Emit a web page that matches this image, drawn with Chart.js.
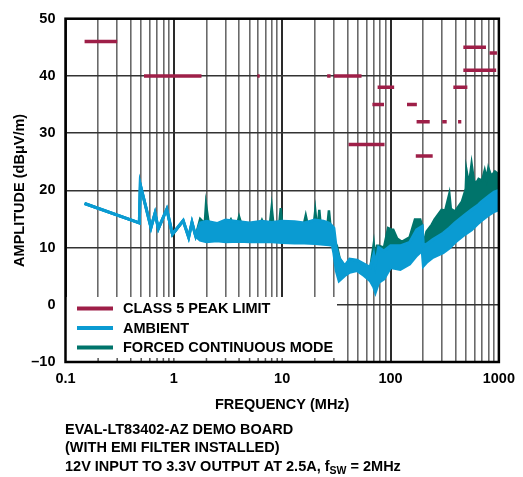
<!DOCTYPE html>
<html><head><meta charset="utf-8">
<script src="https://cdn.jsdelivr.net/npm/chart.js@4/dist/chart.umd.min.js"></script>
<style>html,body{margin:0;padding:0;background:#fff;}canvas{display:block;}</style>
</head><body>
<canvas id="c" width="523" height="477"></canvas>
<script>
// ---- data ----
const xTickValues = [0.1, 1, 10, 100, 1000];
const xTickLabels = ['0.1', '1', '10', '100', '1000'];
const yTickValues = [-10, 0, 10, 20, 30, 40, 50];

// CLASS 5 PEAK LIMIT segments (MHz, dBµV/m)
const limitStart = [0.15, 0.53, 5.9, 26, 30, 41, 68, 76, 142, 174, 171, 300, 420, 380, 470, 470, 820];
const limitEnd   = [0.3, 1.8, 6.2, 28, 54, 88, 87, 108, 175, 230, 245, 330, 450, 512, 760, 944, 960];
const limitLevel = [46, 40, 40, 40, 40, 28, 35, 38, 35, 32, 26, 32, 32, 38, 45, 41, 44];

// AMBIENT (upper / lower edge of the noise band)
const ambientFreq = [0.15,0.48,0.49,0.615,0.67,0.72,0.86,0.97,1.22,1.37,1.47,1.59,1.75,2.0,2.5,3.0,4.0,5.0,6.5,8.0,10,13,16,20,24,27,29,30,31.5,33.5,37.8,42,49,57,65,70,72.5,77.7,87,100,123,150,174,196,201,215,246,306,349,393,485,560,650,690,820,905,1000];
const ambientHigh = [17.7,14.3,21.0,13.5,16.0,13.3,16.7,12.4,14.7,11.8,14.4,12.0,14.3,14.6,14.2,14.8,14.5,14.3,14.6,14.4,14.6,14.5,14.3,14.8,14.6,14.3,13.7,13.4,10.0,8.2,6.8,8.0,7.8,7.1,6.5,8.8,7.0,10.0,9.4,10.3,10.3,10.9,13.1,13.7,10.3,10.6,11.4,12.5,13.4,14.3,15.7,16.6,17.5,18.0,19.1,19.7,20.0];
const ambientLow  = [17.7,14.3,21.0,13.5,16.0,13.3,16.7,12.4,14.7,11.8,14.4,12.0,11.3,11.0,11.2,11.0,11.1,11.0,11.0,11.0,10.9,10.8,10.8,10.7,10.6,10.5,10.4,9.0,6.0,4.2,5.1,5.7,6.0,5.1,4.2,3.1,2.2,3.9,4.5,6.5,6.2,7.1,8.6,9.5,6.8,7.4,8.3,9.1,9.9,10.9,12.3,13.1,14.3,14.7,15.8,16.3,16.6];

// FORCED CONTINUOUS MODE (upper edge; band reaches down under the ambient trace)
const fcmFreq = [0.15,0.48,0.49,0.615,0.67,0.72,0.86,0.97,1.22,1.37,1.47,1.59,1.75,1.93,1.98,2.1,3.2,3.36,3.5,3.85,4.0,4.2,4.9,6.3,6.5,6.7,7.7,8.0,8.3,9.4,9.7,10.0,15.8,16.5,17.2,19.6,20.2,20.8,21.5,22,22.6,26.2,27,27.8,29.5,30.5,32,34,38,42,49,57,65,70,72,75,78,87,95,103,106,115,127,150,168,176,188,195,201,215,240,255,296,320,349,360,393,455,485,495,502,530,560,590,625,650,700,740,770,800,850,885,920,1000];
const fcmHigh = [17.7,14.3,21.0,13.5,16.0,13.3,16.7,12.2,14.7,11.8,14.4,12.0,15.0,14.2,17.5,14.2,14.2,14.9,14.1,14.1,15.4,14.1,14.0,14.2,14.8,14.2,14.0,17.0,14.0,14.1,16.9,14.1,14.0,15.6,14.0,14.1,16.4,14.1,14.1,16.6,14.1,14.0,16.5,14.0,13.3,11.0,10.3,8.0,6.7,7.9,7.7,7.0,6.4,10.6,8.0,10.3,10.3,10.0,13.4,13.1,13.1,11.6,11.0,11.8,14.9,14.9,14.9,13.9,10.5,12.8,14.0,14.9,16.6,16.5,19.4,16.8,16.3,18.0,19.7,20.3,23.5,21.0,24.6,21.5,21.4,22.0,21.7,23.5,22.0,23.9,22.5,22.9,23.3,22.8];

const legendLabels = ['CLASS 5 PEAK LIMIT', 'AMBIENT', 'FORCED CONTINUOUS MODE'];
const footnoteLines = ['EVAL-LT83402-AZ DEMO BOARD', '(WITH EMI FILTER INSTALLED)'];
const footnote3 = ['12V INPUT TO 3.3V OUTPUT AT 2.5A, f', 'SW', ' = 2MHz'];
const xTitle = 'FREQUENCY (MHz)';
const yTitle = 'AMPLITUDE (dBμV/m)';

// ---- styles ----
const C_LIMIT = '#9E1F48';
const C_AMB = '#0A9BD2';
const C_FCM = '#00746B';
const FONT = '"Liberation Sans", Arial, sans-serif';
const FS = 14.5;

// ---- build datasets ----
const limitData = [];
limitStart.forEach((s, i) => {
  limitData.push({x: s, y: limitLevel[i]}, {x: limitEnd[i], y: limitLevel[i]}, {x: limitEnd[i], y: null});
});
const pts = (xs, ys) => xs.map((x, i) => ({x, y: ys[i]}));

const minorMult = [1,2,3,4,5,6,7,8,9];
const allXTicks = [];
xTickValues.forEach((d, i) => {
  if (i < xTickValues.length - 1) minorMult.forEach(m => allXTicks.push(d * m));
  else allXTicks.push(d);
});
const isDecade = v => Math.abs(Math.log10(v) - Math.round(Math.log10(v))) < 1e-6;

const overlay = {
  id: 'overlay',
  afterDatasetsDraw(chart) {
    const ctx = chart.ctx, a = chart.chartArea, xs = chart.scales.x;
    ctx.save();
    const boxTop = 297, boxRight = 337;
    ctx.fillStyle = '#fff';
    ctx.fillRect(a.left, boxTop, boxRight - a.left, a.bottom - boxTop);
    ctx.strokeStyle = '#555'; ctx.lineWidth = 1.5;
    xs.ticks.forEach(t => {
      const px = xs.getPixelForValue(t.value);
      if (px > a.left + 2 && px < boxRight) {
        ctx.beginPath(); ctx.moveTo(px, a.bottom); ctx.lineTo(px, a.bottom - 4); ctx.stroke();
      }
    });
    const cols = [C_LIMIT, C_AMB, C_FCM];
    const ys = [308.5, 328, 347.5];
    ctx.font = 'bold ' + FS + 'px ' + FONT;
    ctx.textBaseline = 'middle';
    ctx.textAlign = 'left';
    legendLabels.forEach((lab, i) => {
      ctx.strokeStyle = cols[i]; ctx.lineWidth = 4; ctx.lineCap = 'butt';
      ctx.beginPath(); ctx.moveTo(77, ys[i]); ctx.lineTo(113, ys[i]); ctx.stroke();
      ctx.fillStyle = '#000';
      ctx.fillText(lab, 123, ys[i] + 0.5);
    });
    ctx.restore();
  },
  afterDraw(chart) {
    const ctx = chart.ctx, a = chart.chartArea;
    ctx.save();
    ctx.strokeStyle = '#000'; ctx.lineWidth = 2.5;
    ctx.strokeRect(a.left, a.top, a.right - a.left, a.bottom - a.top);
    ctx.fillStyle = '#000';
    ctx.font = 'bold ' + FS + 'px ' + FONT;
    ctx.textAlign = 'center'; ctx.textBaseline = 'alphabetic';
    ctx.fillText(xTitle, (a.left + a.right) / 2, 408.5);
    ctx.save();
    ctx.translate(24, (a.top + a.bottom) / 2);
    ctx.rotate(-Math.PI / 2);
    ctx.fillText(yTitle, 0, 0);
    ctx.restore();
    ctx.textAlign = 'left';
    ctx.fillText(footnoteLines[0], 65, 433.5);
    ctx.fillText(footnoteLines[1], 65, 451.5);
    let x = 65;
    ctx.fillText(footnote3[0], x, 470.5);
    x += ctx.measureText(footnote3[0]).width;
    ctx.font = 'bold 10.5px ' + FONT;
    ctx.fillText(footnote3[1], x, 474);
    x += ctx.measureText(footnote3[1]).width;
    ctx.font = 'bold ' + FS + 'px ' + FONT;
    ctx.fillText(footnote3[2], x, 470.5);
    ctx.restore();
  }
};

new Chart(document.getElementById('c'), {
  type: 'line',
  data: {
    datasets: [
      { label: legendLabels[0], data: limitData, borderColor: C_LIMIT, borderWidth: 3.5, borderCapStyle: 'butt',
        pointRadius: 0, spanGaps: false, fill: false, order: 0 },
      { label: legendLabels[1], data: pts(ambientFreq, ambientHigh), borderColor: C_AMB, backgroundColor: C_AMB,
        borderWidth: 3, pointRadius: 0, fill: '+1', order: 1 },
      { label: legendLabels[1] + ' low', data: pts(ambientFreq, ambientLow), borderColor: C_AMB,
        borderWidth: 3, pointRadius: 0, fill: false, order: 1 },
      { label: legendLabels[2], data: pts(fcmFreq, fcmHigh), borderColor: C_FCM, backgroundColor: C_FCM,
        borderWidth: 2.5, pointRadius: 0, fill: 2, order: 2 }
    ]
  },
  options: {
    responsive: false,
    animation: false,
    devicePixelRatio: 1,
    layout: { padding: { top: 13.5, right: 22, left: 0, bottom: 0 } },
    plugins: { legend: { display: false }, tooltip: { enabled: false }, filler: { propagate: false } },
    scales: {
      x: {
        type: 'logarithmic', min: 0.1, max: 1000,
        afterBuildTicks: s => { s.ticks = allXTicks.map(v => ({ value: v, major: isDecade(v) })); },
        afterFit: s => { s.height = 115; },
        ticks: {
          autoSkip: false, maxRotation: 0, minRotation: 0, padding: 8, color: '#000',
          font: { family: FONT, size: FS, weight: 'bold' },
          callback: v => { const i = xTickValues.findIndex(d => Math.abs(d - v) < 1e-9); return i >= 0 ? xTickLabels[i] : ''; }
        },
        grid: {
          drawTicks: false,
          color: c => (c.tick && isDecade(c.tick.value)) ? '#2a2a2a' : '#6a6a6a',
          lineWidth: c => (c.tick && isDecade(c.tick.value)) ? 2 : 1.6
        },
        border: { display: false }
      },
      y: {
        min: -10, max: 50,
        afterBuildTicks: s => { s.ticks = yTickValues.map(v => ({ value: v })); },
        afterFit: s => { s.width = 65.5; },
        ticks: {
          padding: 10, color: '#000',
          font: { family: FONT, size: FS, weight: 'bold' },
          callback: v => v < 0 ? '\u2013' + Math.abs(v) : String(v)
        },
        grid: { drawTicks: false, color: '#333', lineWidth: 1.6 },
        border: { display: false }
      }
    }
  },
  plugins: [overlay]
});
</script>
</body></html>
